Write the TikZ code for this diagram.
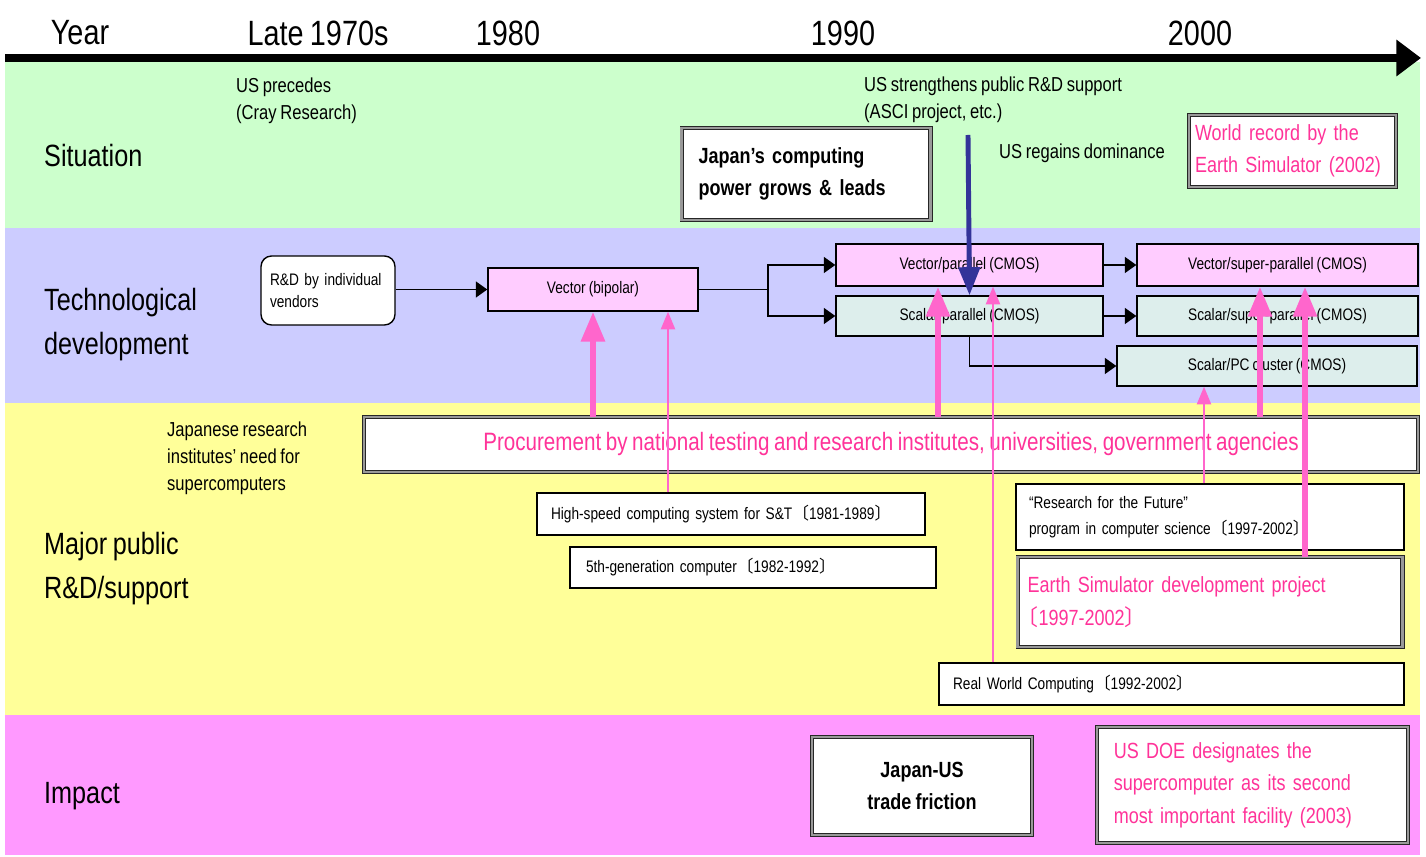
\documentclass[tikz,border=0pt]{standalone}
\usepackage{fontspec}
\setmainfont{Liberation Sans}[FakeStretch=0.82,WordSpace=0.8]
\newfontfamily\cjk{Noto Sans CJK JP}
\usetikzlibrary{arrows.meta}

\definecolor{bandgreen}{HTML}{CCFFCC}
\definecolor{bandpurple}{HTML}{CCCCFF}
\definecolor{bandyellow}{HTML}{FFFF99}
\definecolor{bandpink}{HTML}{FF99FF}
\definecolor{vecfill}{HTML}{FFCCFF}
\definecolor{scafill}{HTML}{DDEEEC}
\definecolor{pktext}{HTML}{FF3399}
\definecolor{pkarrow}{HTML}{FF66CC}
\definecolor{ascblue}{HTML}{333399}

\newcommand{\setsz}[2]{\fontsize{#1}{#2}\selectfont}
\newcommand{\opbr}{{\cjk 〔}}
\newcommand{\clbr}{{\cjk 〕}}

\begin{document}
\begin{tikzpicture}[x=0.02cm,y=-0.02cm,
  yr/.style={font=\setsz{20}{24}},
  rowlbl/.style={anchor=west,align=left,font=\setsz{17.5}{25}},
  note/.style={anchor=west,align=left,font=\setsz{11.5}{15.3}},
  tech/.style={draw,line width=0.8pt,font=\setsz{9.5}{12},inner sep=0pt},
  prog/.style={draw,fill=white,line width=0.7pt,align=left,inner ysep=0pt,font=\setsz{9.5}{14.7}},
  frame/.style={draw=black!85,double=black!40,double distance=1.2pt,line width=0.55pt,fill=white,inner ysep=0pt},
  big/.style={font=\setsz{12.5}{18.5}},
  bigbold/.style={font=\setsz{12.5}{18.5}\bfseries},
  arr/.style={line width=1pt,-{Triangle[length=6.5pt,width=9pt]}},
  pkthick/.style={pkarrow,line width=3.6pt,-{Triangle[length=17pt,width=13pt]}},
  pkthin/.style={pkarrow,line width=1.1pt,-{Triangle[length=10pt,width=8pt]}}]

  \useasboundingbox (0,0) rectangle (1426,857);

  % rows
  \fill[bandgreen]  (5,62)  rectangle (1420,228);
  \fill[bandpurple] (5,228) rectangle (1420,403);
  \fill[bandyellow] (5,403) rectangle (1420,715);
  \fill[bandpink]   (5,715) rectangle (1420,855);

  % time axis
  \node[yr] (hyear) at (80,33) {Year};
  \node[yr] (h70s) at (318,33) {Late 1970s};
  \node[yr] (h80) at (508,33) {1980};
  \node[yr] (h90) at (843,33) {1990};
  \node[yr] (h00) at (1200,33) {2000};
  \coordinate (t0) at (5,58);
  \coordinate (t1) at (1421,58);
  \draw[line width=4.5pt,-{Triangle[length=14pt,width=20pt]}] (t0) -- (t1);

  % row titles
  \node[rowlbl] (lsit) at (38,156) {Situation};
  \node[rowlbl] (ltech) at (38,325) {Technological\\development};
  \node[rowlbl] (lpub) at (38,569) {Major public\\R\&D/support};
  \node[rowlbl] (limp) at (38,796) {Impact};

  % situation
  \node[note] (usprec) at (230,101) {US precedes\\(Cray Research)};
  \node[note] (usrd) at (858,100) {US strengthens public R\&D support\\(ASCI project, etc.)};
  \node[note] (usdom) at (993,153) {US regains dominance};
  \node[frame,bigbold,align=left,text width=4.3cm,inner xsep=0.34cm,minimum height=1.84cm]
    (jpc) at (806,174) {Japan's computing\\power grows \& leads};
  \node[frame,big,text=pktext,align=left,text width=3.9cm,inner xsep=0.12cm,minimum height=1.44cm]
    (wrec) at (1292.5,151) {World record by the\\Earth Simulator (2002)};

  % technological development
  \node[draw,fill=white,line width=0.8pt,rounded corners=6pt,align=left,font=\setsz{9.5}{13},
    text width=2.32cm,inner xsep=0.18cm,minimum height=1.38cm] (rdv) at (328,290.5) {R\&D by individual\\vendors};
  \node[tech,fill=vecfill,minimum width=4.2cm,minimum height=0.86cm] (vbip) at (593,289.5) {Vector (bipolar)};
  \node[tech,fill=vecfill,minimum width=5.34cm,minimum height=0.84cm] (vpar) at (969.5,265) {Vector/parallel (CMOS)};
  \node[tech,fill=scafill,minimum width=5.34cm,minimum height=0.8cm] (spar) at (969.5,316) {Scalar/parallel (CMOS)};
  \node[tech,fill=vecfill,minimum width=5.62cm,minimum height=0.84cm] (vsup) at (1277.5,265) {Vector/super-parallel (CMOS)};
  \node[tech,fill=scafill,minimum width=5.62cm,minimum height=0.8cm] (ssup) at (1277.5,316) {Scalar/super-parallel (CMOS)};
  \node[tech,fill=scafill,minimum width=6.0cm,minimum height=0.8cm] (pccl) at (1267,366) {Scalar/PC cluster (CMOS)};

  \coordinate (fork) at (768,289.5);
  \draw[arr] (rdv.east |- vbip.west) -- (vbip.west);
  \draw[line width=1pt] (vbip.east) -- (fork);
  \draw[arr] (fork) |- (vpar);
  \draw[arr] (fork) |- (spar);
  \draw[arr] (vpar) -- (vsup);
  \draw[arr] (spar) -- (ssup);
  \draw[arr] (spar.south) |- (pccl);

  % major public R&D / support
  \node[note] (jneed) at (161,458) {Japanese research\\institutes' need for\\supercomputers};
  \node[frame,text=pktext,font=\setsz{14.3}{17},minimum width=21.08cm,minimum height=1.1cm]
    (proc) at (891,444.5) {Procurement by national testing and research institutes, universities, government agencies};
  \node[prog,text width=7.2cm,inner xsep=0.28cm,minimum height=0.84cm] (hsc) at (731,514)
    {High-speed computing system for S\&T\opbr 1981-1989\clbr};
  \node[prog,text width=6.68cm,inner xsep=0.32cm,minimum height=0.82cm] (fifth) at (753,567.5)
    {5th-generation computer\opbr 1982-1992\clbr};
  \node[prog,text width=7.24cm,inner xsep=0.26cm,minimum height=1.32cm] (rff) at (1210,517)
    {``Research for the Future''\\program in computer science\opbr 1997-2002\clbr};
  \node[frame,big,text=pktext,align=left,text width=7.3cm,inner xsep=0.2cm,minimum height=1.8cm] (esim) at (1210,602)
    {Earth Simulator development project\\\hspace*{-0.5em}\opbr 1997-2002\clbr};
  \node[prog,text width=8.74cm,inner xsep=0.28cm,minimum height=0.84cm] (rwc) at (1171.5,684)
    {Real World Computing\opbr 1992-2002\clbr};

  % impact
  \node[frame,bigbold,align=center,minimum width=4.4cm,minimum height=1.96cm] (frict) at (922,786)
    {Japan-US\\trade friction};
  \node[frame,big,text=pktext,align=left,text width=5.55cm,inner xsep=0.34cm,minimum height=2.32cm] (doe) at (1252.5,785)
    {US DOE designates the\\supercomputer as its second\\most important facility (2003)};

  % public support feeding the technology
  \path (668,0) coordinate (c1) (938,0) coordinate (c2) (993,0) coordinate (c3)
        (1204,0) coordinate (c4) (1260,0) coordinate (c5) (1305,0) coordinate (c6);
  \draw[pkthick] (proc.north -| vbip.south) -- (vbip.south);
  \draw[pkthin] (hsc.north -| c1) -- (vbip.south -| c1);
  \draw[pkthick] (proc.north -| c2) -- (vpar.south -| c2);
  \draw[pkthin] (rwc.north -| c3) -- (vpar.south -| c3);
  \draw[pkthin] (rff.north -| c4) -- (pccl.south -| c4);
  \draw[pkthick] (proc.north -| c5) -- (vsup.south -| c5);
  \draw[pkthick] (esim.north -| c6) -- (vsup.south -| c6);

  % ASCI push
  \coordinate (asci) at (968,135);
  \draw[ascblue,line width=2.8pt,-{Triangle[length=16pt,width=12pt]}] (asci) -- (spar.north);
\end{tikzpicture}
\end{document}
